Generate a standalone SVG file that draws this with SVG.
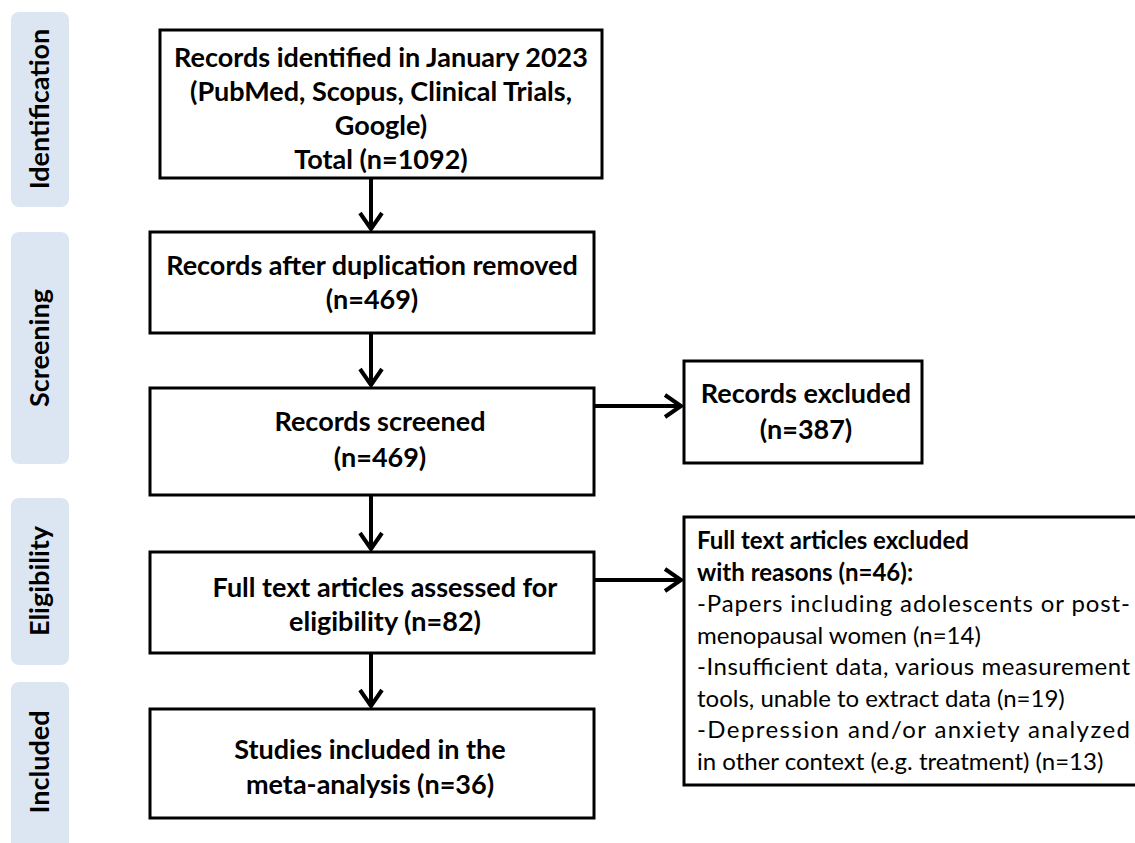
<svg xmlns="http://www.w3.org/2000/svg" width="1135" height="843" viewBox="0 0 1135 843">
<defs>
<style>
.bar{fill:#dce6f2;}
.lab{font-family:Lato,"Liberation Sans",sans-serif;font-weight:bold;font-size:27px;fill:#000;text-anchor:middle;}
.box{fill:#fff;stroke:#000;stroke-width:3;}
.t{font-family:Lato,"Liberation Sans",sans-serif;font-weight:bold;font-size:27px;fill:#000;text-anchor:middle;}
.s{font-family:Lato,"Liberation Sans",sans-serif;font-size:24px;fill:#000;}
.sb{font-weight:bold;}
.c{stroke:#000;stroke-width:4;fill:none;}
</style>
<marker id="ah" markerWidth="28" markerHeight="28" refX="19" refY="14" orient="auto" markerUnits="userSpaceOnUse">
<path d="M3,3 L19,14 L3,25" fill="none" stroke="#000" stroke-width="4"/>
</marker>
</defs>
<rect width="1135" height="843" fill="#fff"/>
<g id="phase-identification"><rect class="bar" x="11" y="12" width="58" height="195" rx="8"/><text class="lab" transform="translate(49,109) rotate(-90)">Identification</text></g>
<g id="phase-screening"><rect class="bar" x="11" y="232" width="58" height="232" rx="8"/><text class="lab" transform="translate(49,348) rotate(-90)">Screening</text></g>
<g id="phase-eligibility"><rect class="bar" x="11" y="498" width="58" height="167" rx="8"/><text class="lab" transform="translate(49,581) rotate(-90)">Eligibility</text></g>
<g id="phase-included"><rect class="bar" x="11" y="682" width="58" height="175" rx="8"/><text class="lab" transform="translate(49,762) rotate(-90)">Included</text></g>

<g id="connectors">
<line class="c" x1="371" y1="178" x2="371" y2="229" marker-end="url(#ah)"/>
<line class="c" x1="371" y1="333" x2="371" y2="385" marker-end="url(#ah)"/>
<line class="c" x1="594" y1="406" x2="681" y2="406" marker-end="url(#ah)"/>
<line class="c" x1="371" y1="495" x2="371" y2="549" marker-end="url(#ah)"/>
<line class="c" x1="594" y1="580" x2="681" y2="580" marker-end="url(#ah)"/>
<line class="c" x1="371" y1="653" x2="371" y2="706" marker-end="url(#ah)"/>
</g>

<g id="n1"><rect class="box" x="160" y="30" width="442" height="148"/>
<text class="t" x="381" y="67">Records identified in January 2023</text>
<text class="t" x="381" y="101">(PubMed, Scopus, Clinical Trials,</text>
<text class="t" x="381" y="135">Google)</text>
<text class="t" x="381" y="169">Total (n=1092)</text></g>

<g id="n2"><rect class="box" x="150" y="232" width="444" height="101"/>
<text class="t" x="372" y="275">Records after duplication removed</text>
<text class="t" x="372" y="309">(n=469)</text></g>

<g id="n3"><rect class="box" x="150" y="388" width="444" height="107"/>
<text class="t" x="380" y="431">Records screened</text>
<text class="t" x="380" y="467">(n=469)</text></g>

<g id="n4"><rect class="box" x="684" y="361" width="238" height="102"/>
<text class="t" x="806" y="403">Records excluded</text>
<text class="t" x="806" y="439">(n=387)</text></g>

<g id="n5"><rect class="box" x="150" y="552" width="444" height="101"/>
<text class="t" x="385" y="597">Full text articles assessed for</text>
<text class="t" x="385" y="631">eligibility (n=82)</text></g>

<g id="n6"><rect class="box" x="684" y="517" width="460" height="268"/>
<text class="s sb" x="697" y="549">Full text articles excluded</text>
<text class="s sb" x="697" y="581">with reasons (n=46):</text>
<text class="s" x="697" y="612" textLength="433" lengthAdjust="spacing">-Papers including adolescents or post-</text>
<text class="s" x="697" y="644">menopausal women (n=14)</text>
<text class="s" x="697" y="675" textLength="433" lengthAdjust="spacing">-Insufficient data, various measurement</text>
<text class="s" x="697" y="707">tools, unable to extract data (n=19)</text>
<text class="s" x="697" y="738" textLength="433" lengthAdjust="spacing">-Depression and/or anxiety analyzed</text>
<text class="s" x="697" y="770">in other context (e.g. treatment) (n=13)</text></g>

<g id="n7"><rect class="box" x="150" y="709" width="444" height="109"/>
<text class="t" x="370" y="759">Studies included in the</text>
<text class="t" x="370" y="794">meta-analysis (n=36)</text></g>
</svg>
